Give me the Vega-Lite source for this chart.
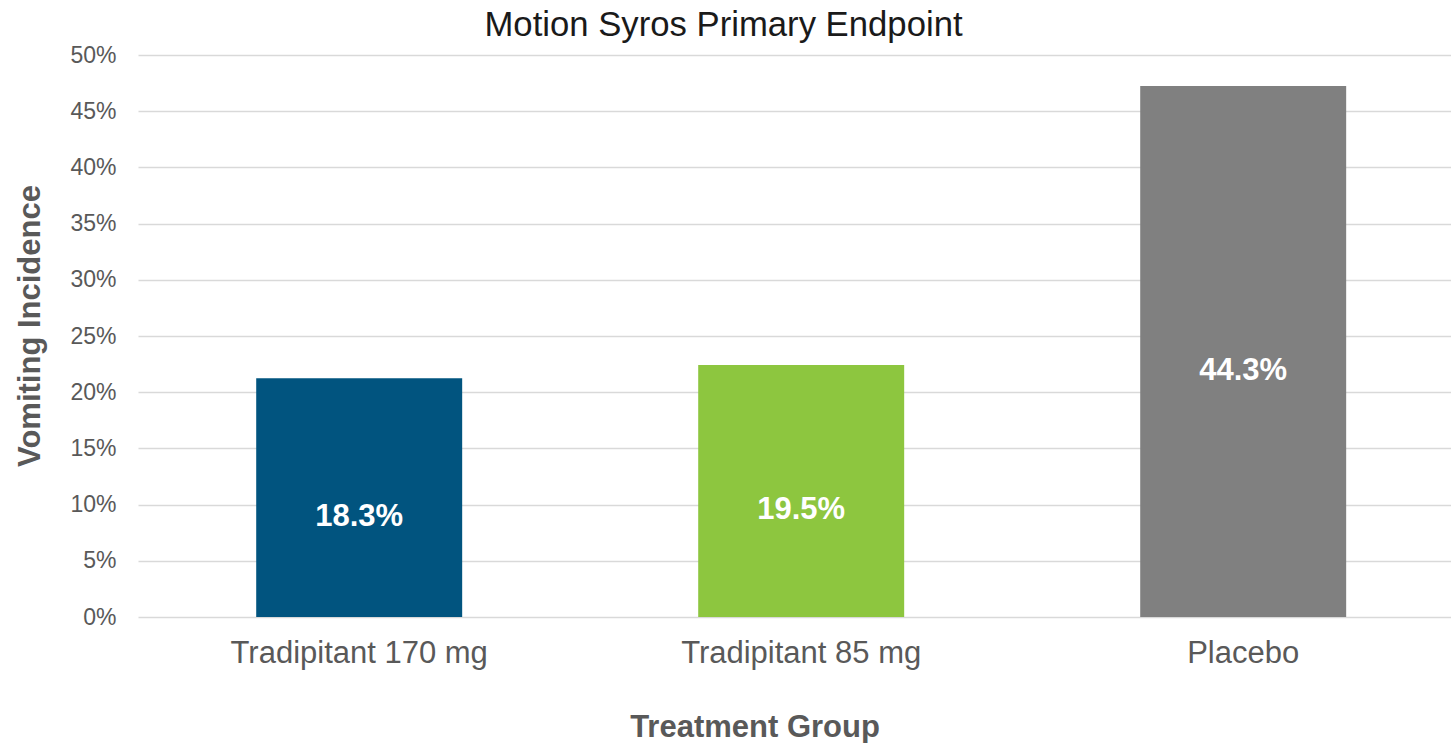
{
  "$schema": "https://vega.github.io/schema/vega-lite/v6.json",
  "autosize": "none",
  "width": 1313,
  "height": 562,
  "padding": {"left": 138, "top": 55, "right": 0, "bottom": 126},
  "background": "white",
  "config": {"view": {"stroke": null}, "font": "Liberation Sans"},
  "title": {
    "text": "Motion Syros Primary Endpoint",
    "fontSize": 34.7,
    "font": "Liberation Sans",
    "fontWeight": "normal",
    "color": "#1a1a1a",
    "anchor": "middle",
    "baseline": "alphabetic",
    "dx": -71,
    "dy": 33,
    "offset": 6
  },
  "data": {
    "values": [
      {"group": "Tradipitant 170 mg", "rate": 0.2124, "label": 0.183},
      {"group": "Tradipitant 85 mg", "rate": 0.2243, "label": 0.195},
      {"group": "Placebo", "rate": 0.4725, "label": 0.443}
    ]
  },
  "encoding": {
    "x": {
      "field": "group",
      "type": "nominal",
      "sort": null,
      "scale": {"paddingInner": 0.534, "paddingOuter": 0.2523, "align": 0.53},
      "axis": {
        "title": "Treatment Group",
        "titleFont": "Liberation Sans",
        "titleFontSize": 31,
        "titleFontWeight": "bold",
        "titleColor": "#595959",
        "titleX": 616.5,
        "titleY": 119,
        "titleAlign": "center",
        "titleBaseline": "alphabetic",
        "labelAngle": 0,
        "labelLimit": 0,
        "labelFont": "Liberation Sans",
        "labelFontSize": 31,
        "labelColor": "#595959",
        "labelPadding": 21,
        "ticks": false,
        "domain": false,
        "grid": false
      }
    }
  },
  "layer": [
    {
      "mark": {"type": "bar"},
      "encoding": {
        "y": {
          "field": "rate",
          "type": "quantitative",
          "scale": {"domain": [0, 0.5], "nice": false},
          "axis": {
            "title": "Vomiting Incidence",
            "titleFont": "Liberation Sans",
            "titleFontSize": 31,
            "titleFontWeight": "bold",
            "titleColor": "#595959",
            "titleAngle": -90,
            "titleX": -99,
            "titleY": 270.5,
            "titleAlign": "center",
            "titleBaseline": "alphabetic",
            "values": [0, 0.05, 0.1, 0.15, 0.2, 0.25, 0.3, 0.35, 0.4, 0.45, 0.5],
            "format": ".0%",
            "labelFont": "Liberation Sans",
            "labelFontSize": 23,
            "labelColor": "#595959",
            "labelPadding": 22,
            "ticks": false,
            "domain": false,
            "grid": true,
            "gridColor": "#d9d9d9",
            "gridWidth": 1.5
          }
        },
        "color": {
          "field": "group",
          "type": "nominal",
          "scale": {
            "domain": ["Tradipitant 170 mg", "Tradipitant 85 mg", "Placebo"],
            "range": ["#01547F", "#8DC63F", "#808080"]
          },
          "legend": null
        }
      }
    },
    {
      "mark": {"type": "text", "color": "white", "fontWeight": "bold", "fontSize": 31, "baseline": "middle", "dy": 3, "font": "Liberation Sans"},
      "encoding": {
        "y": {"field": "label", "type": "quantitative", "scale": {"domain": [0, 1], "nice": false}, "axis": null},
        "text": {"field": "label", "type": "quantitative", "format": ".1%"}
      }
    }
  ],
  "resolve": {"scale": {"y": "independent"}}
}
